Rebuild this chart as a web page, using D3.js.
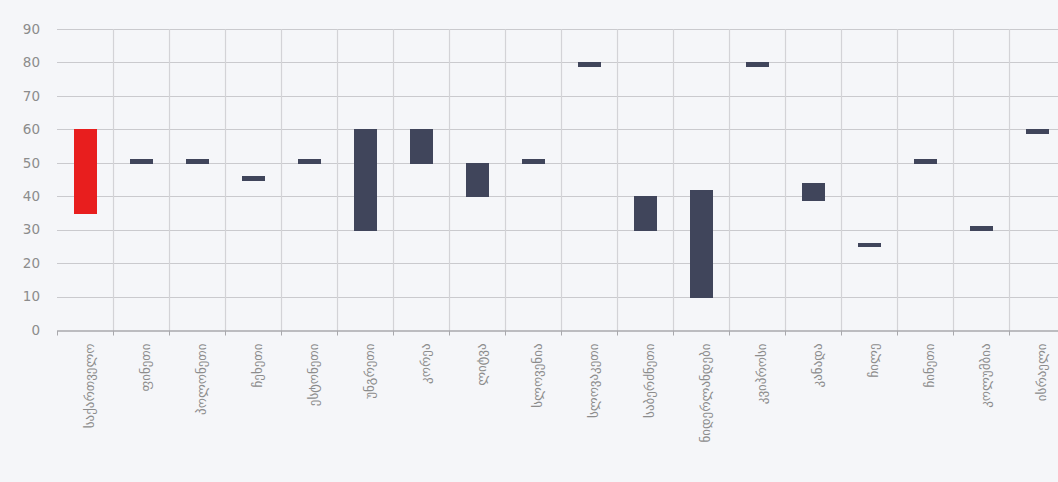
<!DOCTYPE html>
<html lang="ka">
  <head>
    <meta charset="utf-8" />
    <title>Floating bars</title>
    <script src="https://d3js.org/d3.v7.min.js" charset="utf-8"></script>
    <style>
      html, body {
        margin: 0;
        padding: 0;
        background: #f5f6f9;
      }
      .axis text {
        font-family: "DejaVu Sans", sans-serif;
        fill: #8c8c8c;
      }
    </style>
  </head>
  <body>
    <div id="svg-container"></div>
    <script>
      // data
      const countries = ["საქართველო", "ფინეთი", "პოლონეთი", "ჩეხეთი", "ესტონეთი", "უნგრეთი",
        "კორეა", "ლიტვა", "სლოვენია", "სლოვაკეთი", "საბერძნეთი", "ნიდერლანდები",
        "კვიპროსი", "კანადა", "ჩილე", "ჩინეთი", "კოლუმბია", "ისრაელი"];
      const lowValues = [35, 50, 50, 45, 50, 30, 50, 40, 50, 79, 30, 10, 79, 39, 25, 50, 30, 59];
      const highValues = [60, 51, 51, 46, 51, 60, 60, 50, 51, 80, 40, 42, 80, 44, 26, 51, 31, 60];
      const yTicks = [0, 10, 20, 30, 40, 50, 60, 70, 80, 90];

      const data = countries.map((c, i) => ({ name: c, low: lowValues[i], high: highValues[i] }));

      const W = 1058, H = 482;
      const margin = { top: 29, left: 57, bottom: 152 };
      const plotRight = 1065; // chart continues past the right edge

      const svg = d3.select("#svg-container")
        .append("svg")
        .attr("width", W)
        .attr("height", H);

      // scales
      const xscale = d3.scaleBand().domain(countries).range([margin.left, plotRight]).paddingInner(0).paddingOuter(0);
      const yscale = d3.scaleLinear().domain([0, 90]).range([H - margin.bottom, margin.top]);

      // horizontal grid
      svg.append("g")
        .selectAll("line")
        .data(yTicks.slice(1))
        .join("line")
        .attr("x1", margin.left)
        .attr("x2", plotRight)
        .attr("y1", (d) => Math.round(yscale(d)) + 0.5)
        .attr("y2", (d) => Math.round(yscale(d)) + 0.5)
        .attr("stroke", "#cacace")
        .attr("stroke-width", 1.2);

      // vertical grid at category boundaries
      svg.append("g")
        .selectAll("line")
        .data(countries.slice(1))
        .join("line")
        .attr("x1", (d) => Math.round(xscale(d)) + 0.5)
        .attr("x2", (d) => Math.round(xscale(d)) + 0.5)
        .attr("y1", margin.top)
        .attr("y2", yscale(0))
        .attr("stroke", "#d3d3d7")
        .attr("stroke-width", 1.2);

      // bars
      const barW = Math.round(xscale.bandwidth() * 0.41);
      svg.append("g")
        .selectAll("rect")
        .data(data)
        .join("rect")
        .attr("x", (d) => Math.round(xscale(d.name) + (xscale.bandwidth() - barW) / 2))
        .attr("width", barW)
        .attr("y", (d) => Math.round(yscale(d.high)))
        .attr("height", (d) => Math.round(yscale(d.low)) - Math.round(yscale(d.high)) + 1)
        .attr("fill", (d, i) => (i === 0 ? "#e81e1e" : "#40455b"));

      // y axis
      const yaxis = d3.axisLeft(yscale).tickValues(yTicks).tickSize(0).tickPadding(17);
      const g_yaxis = svg.append("g")
        .attr("class", "axis")
        .attr("transform", `translate(${margin.left},0)`)
        .call(yaxis);
      g_yaxis.select(".domain").remove();
      g_yaxis.selectAll("text").style("font-size", "13.5px");

      // x axis
      const xaxis = d3.axisBottom(xscale).tickSize(0).tickPadding(0);
      const g_xaxis = svg.append("g")
        .attr("class", "axis")
        .attr("transform", `translate(0,${Math.round(yscale(0)) + 0.5})`)
        .call(xaxis);
      g_xaxis.select(".domain").attr("stroke", "#a9a9ad").attr("stroke-width", 1.5);
      g_xaxis.selectAll("text")
        .style("font-size", "13px")
        .attr("text-anchor", "end")
        .attr("transform", "translate(4,13) rotate(-90)")
        .attr("dy", "0.35em")
        .attr("y", 0)
        .attr("x", 0);

      // small tick marks at boundaries
      g_xaxis.append("g")
        .selectAll("line")
        .data(countries)
        .join("line")
        .attr("x1", (d) => Math.round(xscale(d)) + 0.5)
        .attr("x2", (d) => Math.round(xscale(d)) + 0.5)
        .attr("y1", 0)
        .attr("y2", 5)
        .attr("stroke", "#a9a9ad");
    </script>
  </body>
</html>
